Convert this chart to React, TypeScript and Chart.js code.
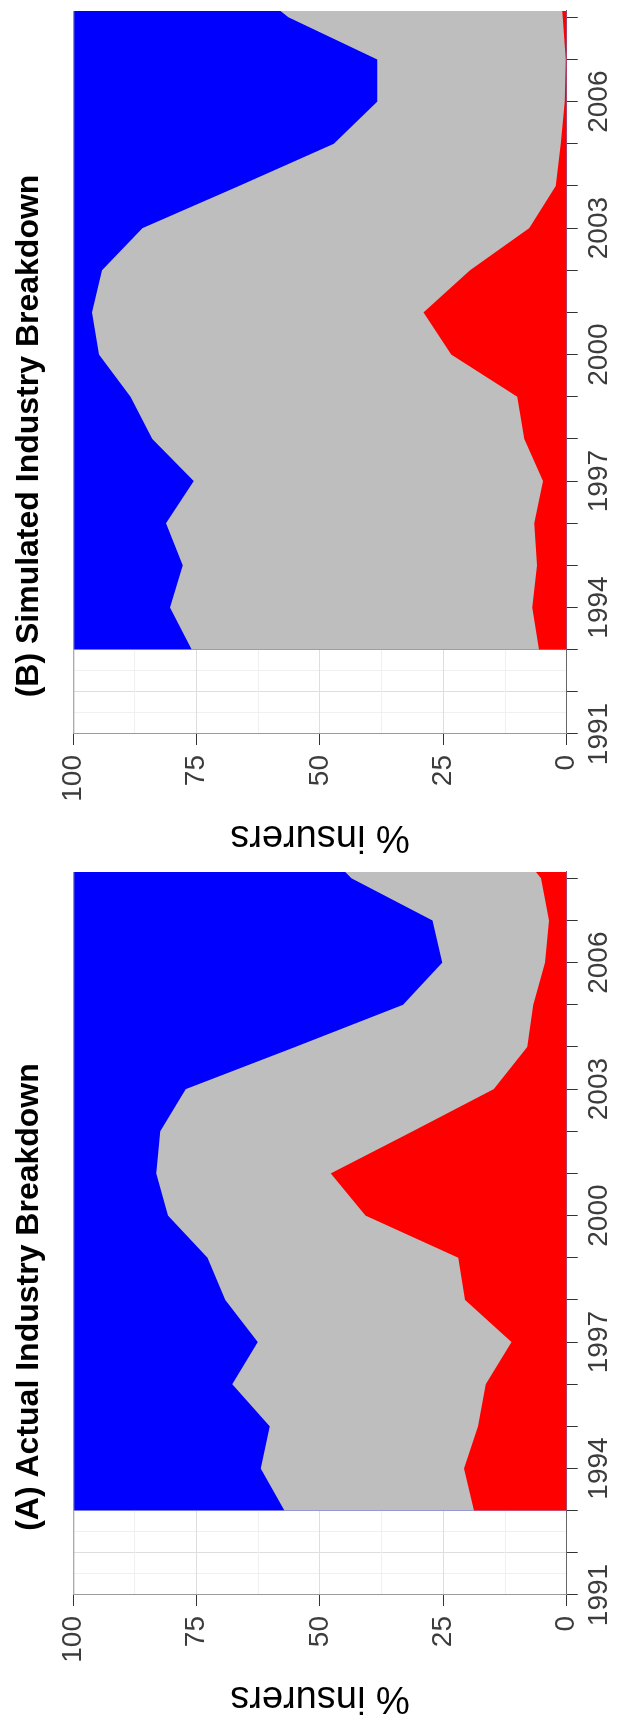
import React, { useEffect, useRef } from 'react';
import { Chart, registerables } from 'chart.js';

Chart.register(...registerables);

// ---- data (shares of insurers, %) ----
const years = [1993, 1994, 1995, 1996, 1997, 1998, 1999, 2000, 2001, 2002, 2003, 2004, 2005, 2006, 2007, 2008, 2009];

const actualRed = [18.8, 20.8, 18.0, 16.4, 11.2, 20.6, 22.0, 40.8, 47.8, 31.2, 14.8, 8.0, 6.8, 4.4, 3.6, 5.2, 12.0];
const actualGrey = [38.4, 41.2, 42.2, 51.4, 51.4, 48.6, 50.8, 40.0, 35.4, 51.2, 62.4, 47.0, 26.4, 20.8, 23.6, 38.4, 40.0];
const actualBlue = [42.8, 38.0, 39.8, 32.2, 37.4, 30.8, 27.2, 19.2, 16.8, 17.6, 22.8, 45.0, 66.8, 74.8, 72.8, 56.4, 48.0];

const simRed = [5.6, 7.0, 6.0, 6.6, 4.8, 8.6, 10.0, 23.4, 29.0, 19.6, 7.6, 2.2, 1.2, 0.4, 0.2, 0.8, 1.5];
const simGrey = [70.4, 73.4, 71.8, 74.6, 70.8, 75.4, 78.4, 71.4, 67.2, 74.6, 78.4, 64.2, 46.0, 38.0, 38.2, 55.6, 65.5];
const simBlue = [24.0, 19.6, 22.2, 18.8, 24.4, 16.0, 11.6, 5.2, 3.8, 5.8, 14.0, 33.6, 52.8, 61.6, 61.6, 43.6, 33.0];

const yearTickLabels = [1991, 1994, 1997, 2000, 2003, 2006];
const percentTickLabels = [0, 25, 50, 75, 100];

const xMin = 1991;
const xMax = 2008.15;

const FONT = "'Liberation Sans', Arial, Helvetica, sans-serif";
const MAJOR_GRID = '#dedede';
const MINOR_GRID = '#f0f0f0';

const yearGrid: number[] = [];
for (let v = 1991; v <= 2008; v += 0.5) yearGrid.push(v);
const pctGrid: number[] = [];
for (let v = 0; v <= 100; v += 12.5) pctGrid.push(v);

const boxPlugin = {
  id: 'topBox',
  afterDatasetsDraw(chart: any) {
    const { ctx, chartArea } = chart;
    ctx.save();
    ctx.strokeStyle = '#9a9a9a';
    ctx.lineWidth = 1;
    ctx.beginPath();
    ctx.moveTo(chartArea.left, chartArea.top + 0.5);
    ctx.lineTo(chartArea.right, chartArea.top + 0.5);
    ctx.stroke();
    ctx.restore();
  },
};

function Panel({ title, red, grey, blue }: { title: string; red: number[]; grey: number[]; blue: number[] }) {
  const ref = useRef<HTMLCanvasElement>(null);
  useEffect(() => {
    const pts = (arr: number[]) => years.map((y, i) => ({ x: y, y: arr[i] }));
    const ds = (label: string, arr: number[], color: string) => ({
      label,
      data: pts(arr),
      backgroundColor: color,
      borderColor: color,
      borderWidth: 0,
      pointRadius: 0,
      fill: 'origin',
      tension: 0,
    });
    const chart = new Chart(ref.current as HTMLCanvasElement, {
      type: 'line',
      data: {
        datasets: [ds('red', red, '#ff0000'), ds('grey', grey, '#bebebe'), ds('blue', blue, '#0000ff')] as any,
      },
      options: {
        animation: false,
        responsive: false,
        devicePixelRatio: 1,
        layout: { padding: { left: 0, right: 11, top: 0, bottom: 0 } },
        plugins: {
          legend: { display: false },
          tooltip: { enabled: false },
          title: {
            display: true,
            text: title,
            color: '#000',
            font: { family: FONT, size: 32, weight: 'bold', lineHeight: 1.2 },
            padding: { top: 9.5, bottom: 25.4 },
          },
        },
        scales: {
          x: {
            type: 'linear',
            min: xMin,
            max: xMax,
            afterBuildTicks: (s: any) => {
              s.ticks = yearGrid.map((v) => ({ value: v }));
            },
            afterFit: (s: any) => {
              s.height = 50.3;
            },
            ticks: {
              autoSkip: false,
              maxRotation: 0,
              minRotation: 0,
              padding: 5,
              color: '#3c3c3c',
              font: { family: FONT, size: 28 },
              callback: (v: any) => (yearTickLabels.includes(Number(v)) ? String(v) : ''),
            },
            grid: {
              color: (c: any) => (c.tick && Number.isInteger(c.tick.value) ? MAJOR_GRID : MINOR_GRID),
              tickColor: (c: any) => (c.tick && Number.isInteger(c.tick.value) ? '#333333' : 'rgba(0,0,0,0)'),
              tickLength: 11,
              lineWidth: 1,
            },
            border: { display: true, color: '#666666', width: 1 },
          },
          y: {
            stacked: true,
            min: 0,
            max: 100,
            afterBuildTicks: (s: any) => {
              s.ticks = pctGrid.map((v) => ({ value: v }));
            },
            afterFit: (s: any) => {
              s.width = 127;
            },
            ticks: {
              padding: 10,
              color: '#3c3c3c',
              font: { family: FONT, size: 28 },
              callback: (v: any) => (percentTickLabels.includes(Number(v)) ? String(v) : ''),
            },
            grid: {
              color: (c: any) => (c.tick && percentTickLabels.includes(c.tick.value) ? MAJOR_GRID : MINOR_GRID),
              tickColor: (c: any) => (c.tick && percentTickLabels.includes(c.tick.value) ? '#333333' : 'rgba(0,0,0,0)'),
              tickLength: 11,
              lineWidth: 1,
            },
            border: { display: true, color: '#9a9a9a', width: 1 },
            title: {
              display: true,
              text: '% insurers',
              color: '#000',
              font: { family: FONT, size: 38, lineHeight: 1.2 },
              padding: { top: 2, bottom: 0 },
            },
          },
        },
      } as any,
      plugins: [boxPlugin],
    });
    return () => chart.destroy();
  }, [title, red, grey, blue]);
  return <canvas ref={ref} width={861} height={617} style={{ display: 'block', width: 861, height: 617 }} />;
}

export default function App() {
  return (
    <div style={{ position: 'absolute', left: 0, top: 0, width: 617, height: 1722, overflow: 'hidden', background: '#fff' }}>
      <div
        style={{
          position: 'absolute',
          left: 0,
          top: 0,
          width: 1722,
          height: 617,
          display: 'flex',
          transformOrigin: '0 0',
          transform: 'translate(0px, 1722px) rotate(-90deg)',
        }}
      >
        <Panel title="(A) Actual Industry Breakdown" red={actualRed} grey={actualGrey} blue={actualBlue} />
        <Panel title="(B) Simulated Industry Breakdown" red={simRed} grey={simGrey} blue={simBlue} />
      </div>
    </div>
  );
}
